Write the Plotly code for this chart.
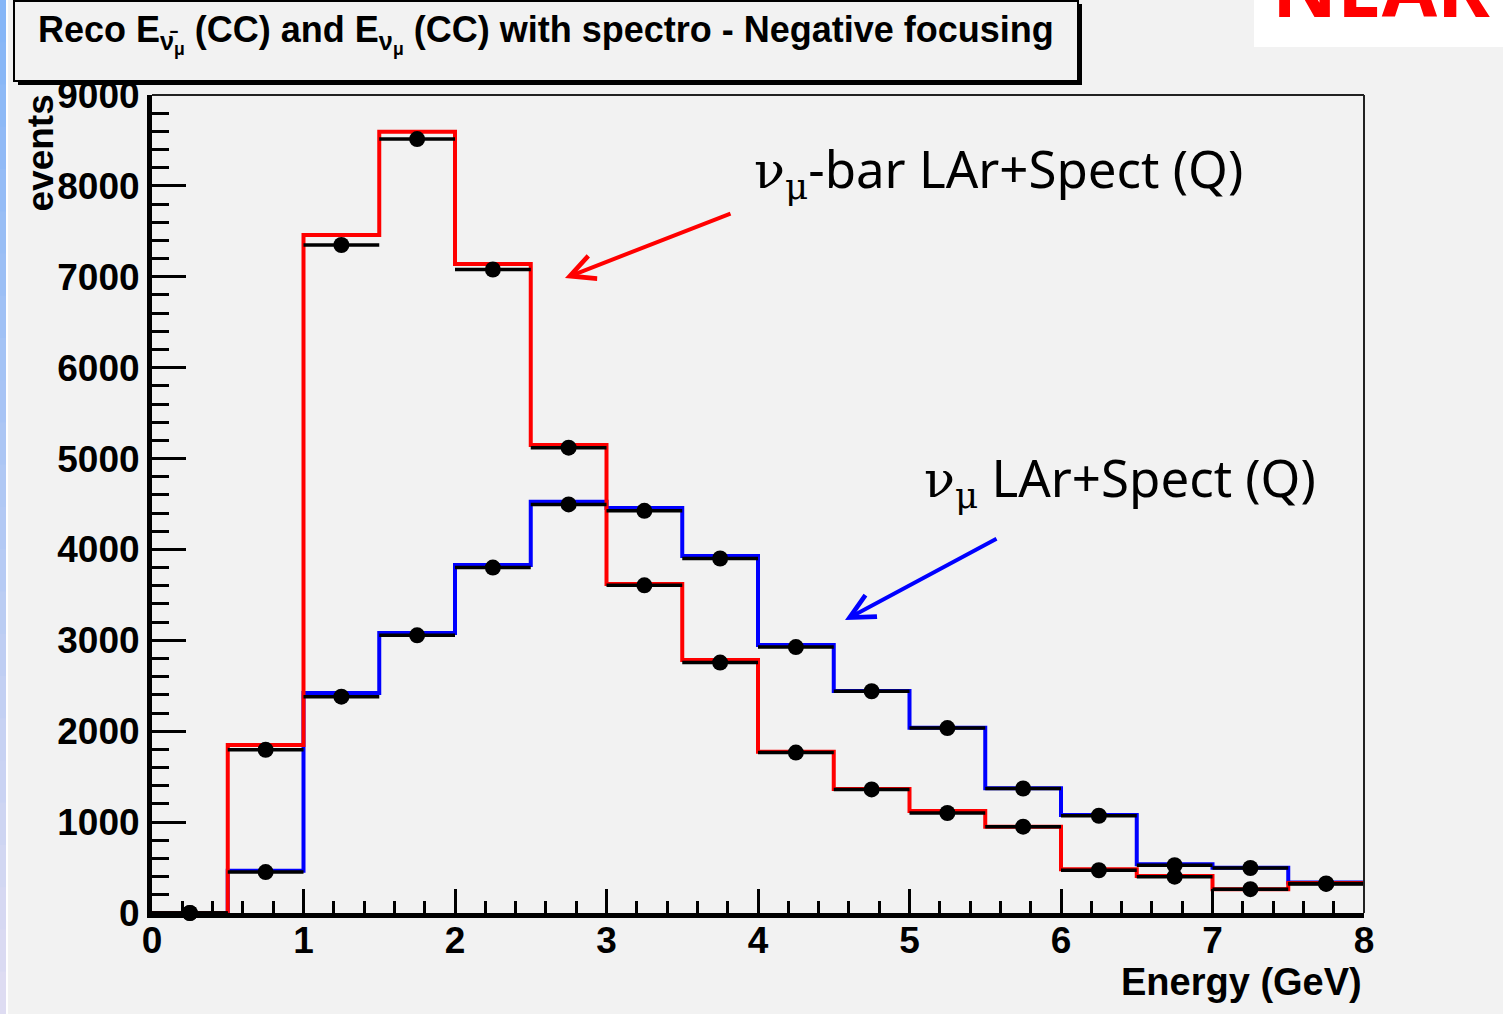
import plotly.graph_objects as go

# ---------------- data ----------------
bin_edges = [0.0, 0.5, 1.0, 1.5, 2.0, 2.5, 3.0, 3.5, 4.0, 4.5, 5.0, 5.5, 6.0, 6.5, 7.0, 7.5, 8.0]
bin_centers = [0.25, 0.75, 1.25, 1.75, 2.25, 2.75, 3.25, 3.75, 4.25, 4.75, 5.25, 5.75, 6.25, 6.75, 7.25, 7.75]

# anti-neutrino (nu_mu-bar) reconstructed spectrum: histogram (red) and points (black)
antinu_hist = [0, 1848, 7459, 8595, 7140, 5148, 3619, 2783, 1773, 1364, 1122, 949, 480, 407, 262, 330]
antinu_pts = [0, 1795, 7350, 8515, 7080, 5120, 3605, 2755, 1765, 1360, 1100, 950, 470, 400, 262, 320]

# neutrino (nu_mu) reconstructed spectrum: histogram (blue) and points (black)
nu_hist = [0, 465, 2420, 3080, 3828, 4525, 4455, 3927, 2948, 2442, 2039, 1372, 1078, 535, 498, 335]
nu_pts = [0, 450, 2380, 3055, 3800, 4495, 4425, 3900, 2926, 2440, 2035, 1370, 1070, 525, 495, 325]

x_range = [0, 8]
y_range = [0, 9000]

title_text = ("Reco E<sub>ν̄<sub>μ</sub></sub> (CC) and E<sub>ν<sub>μ</sub></sub> (CC) "
              "with spectro - Negative focusing")
label_antinu = "<span style='font-family:DejaVu Serif'>ν<sub>μ</sub></span>-bar LAr+Spect (Q)"
label_nu = "<span style='font-family:DejaVu Serif'>ν<sub>μ</sub></span> LAr+Spect (Q)"

# ---------------- layout geometry ----------------
W, H = 1503, 1014
L, R, T, B = 152, 139, 95, 101
PW, PH = W - L - R, H - T - B
BG = "#f2f2f2"


def px(xp):
    return (xp - L) / PW


def py(yp):
    return (H - B - yp) / PH


def step(v):
    return list(v) + [v[-1]]


fig = go.Figure()
fig.add_trace(go.Scatter(x=bin_edges, y=step(nu_hist), mode="lines",
                         line=dict(color="#0000ff", width=4, shape="hv"),
                         showlegend=False, hoverinfo="skip"))
fig.add_trace(go.Scatter(x=bin_edges, y=step(antinu_hist), mode="lines",
                         line=dict(color="#ff0000", width=4, shape="hv"),
                         showlegend=False, hoverinfo="skip"))
for pts in (nu_pts, antinu_pts):
    fig.add_trace(go.Scatter(x=bin_centers, y=pts, mode="markers",
                             marker=dict(color="black", size=16),
                             error_x=dict(type="constant", value=0.25, color="black",
                                          thickness=3.5, width=0),
                             cliponaxis=False, showlegend=False))

axis_font = dict(family="Liberation Sans, Arial, sans-serif", size=37, color="black", weight="bold")

fig.update_xaxes(range=x_range, showline=True, linewidth=5, linecolor="black",
                 ticks="inside", ticklen=24, tickwidth=3, tickcolor="black", dtick=1,
                 minor=dict(ticks="inside", ticklen=12, tickwidth=3, tickcolor="black", dtick=0.2),
                 showgrid=False, zeroline=False, tickfont=axis_font, ticklabelstandoff=-9)
fig.update_yaxes(range=y_range, showline=True, linewidth=5, linecolor="black",
                 ticks="inside", ticklen=34, tickwidth=3, tickcolor="black", dtick=1000,
                 tickformat="d",
                 minor=dict(ticks="inside", ticklen=17, tickwidth=3, tickcolor="black", dtick=200),
                 showgrid=False, zeroline=False, tickfont=axis_font, ticklabelstandoff=0)

shapes = []
# top / right frame
shapes.append(dict(type="line", xref="paper", yref="paper", x0=0, x1=1, y0=1, y1=1,
                   line=dict(color="#222222", width=2)))
shapes.append(dict(type="line", xref="paper", yref="paper", x0=1, x1=1, y0=0, y1=1,
                   line=dict(color="#222222", width=2)))
# left decorative gradient stripe
n = 24
c0 = (134, 182, 247)
c1 = (222, 220, 242)
for i in range(n):
    f = i / (n - 1)
    col = "rgb(%d,%d,%d)" % tuple(int(a + (b - a) * f) for a, b in zip(c0, c1))
    shapes.append(dict(type="rect", xref="paper", yref="paper", x0=px(0), x1=px(6),
                       y0=py(H * (i + 1) / n + 1), y1=py(H * i / n),
                       fillcolor=col, line=dict(width=0), layer="below"))
shapes.append(dict(type="rect", xref="paper", yref="paper", x0=px(6), x1=px(8),
                   y0=py(H), y1=py(0), fillcolor="white", line=dict(width=0), layer="below"))
# NEAR white box
shapes.append(dict(type="rect", xref="paper", yref="paper", x0=px(1254), x1=px(1510),
                   y0=py(47), y1=py(-5), fillcolor="white", line=dict(width=0), layer="below"))
# title box with shadow
shapes.append(dict(type="rect", xref="paper", yref="paper", x0=px(18), x1=px(1082),
                   y0=py(85), y1=py(4), fillcolor="black", line=dict(width=0)))
shapes.append(dict(type="rect", xref="paper", yref="paper", x0=px(14), x1=px(1078),
                   y0=py(81), y1=py(1), fillcolor=BG, line=dict(color="black", width=2)))

annotations = []
annotations.append(dict(xref="paper", yref="paper", x=px(546), y=py(34), text=title_text,
                        showarrow=False, xanchor="center", yanchor="middle",
                        font=dict(family="Liberation Sans, Arial, sans-serif", size=36,
                                  color="black", weight="bold")))
annotations.append(dict(xref="paper", yref="paper", x=px(40), y=py(93), text="events",
                        textangle=-90, showarrow=False, xanchor="center", yanchor="top",
                        font=dict(family="Liberation Sans, Arial, sans-serif", size=37,
                                  color="black", weight="bold")))
annotations.append(dict(xref="paper", yref="paper", x=px(1364), y=py(982), text="Energy (GeV)",
                        showarrow=False, xanchor="right", yanchor="middle",
                        font=dict(family="Liberation Sans, Arial, sans-serif", size=38,
                                  color="black", weight="bold")))
annotations.append(dict(xref="paper", yref="paper", x=px(752), y=py(170), text=label_antinu,
                        showarrow=False, xanchor="left", yanchor="middle",
                        font=dict(family="Noto Sans, sans-serif", size=51, color="black")))
annotations.append(dict(xref="paper", yref="paper", x=px(922), y=py(479), text=label_nu,
                        showarrow=False, xanchor="left", yanchor="middle",
                        font=dict(family="Noto Sans, sans-serif", size=51, color="black")))
# arrows
annotations.append(dict(xref="x", yref="y", x=(565 - L) / PW * 8, y=(H - B - 278) / PH * 9000,
                        ax=732 - 565, ay=213 - 278, text="", showarrow=True,
                        arrowhead=5, arrowsize=1.2, arrowwidth=4, arrowcolor="#ff0000"))
annotations.append(dict(xref="x", yref="y", x=(845 - L) / PW * 8, y=(H - B - 620) / PH * 9000,
                        ax=998 - 845, ay=538 - 620, text="", showarrow=True,
                        arrowhead=5, arrowsize=1.2, arrowwidth=4, arrowcolor="#0000ff"))
# NEAR (cut by the page top)
annotations.append(dict(xref="paper", yref="paper", x=px(1270), y=py(42), text="NEAR",
                        showarrow=False, xanchor="left", yanchor="bottom",
                        font=dict(family="Noto Sans, sans-serif", size=80, color="#ff0000",
                                  weight="bold")))

fig.update_layout(width=W, height=H, margin=dict(l=L, r=R, t=T, b=B),
                  paper_bgcolor=BG, plot_bgcolor=BG, shapes=shapes, annotations=annotations,
                  showlegend=False)

fig.write_html("out.html")
